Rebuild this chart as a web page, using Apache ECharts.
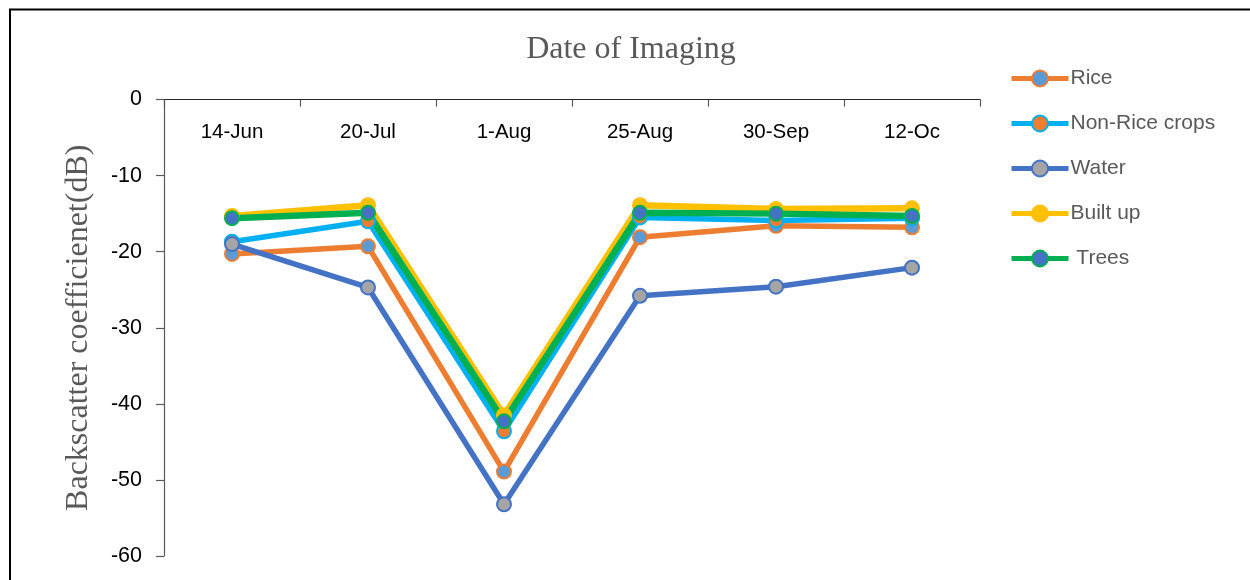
<!DOCTYPE html>
<html>
<head>
<meta charset="utf-8">
<script src="https://cdn.jsdelivr.net/npm/echarts@6/dist/echarts.min.js"></script>
<style>
  html, body { margin: 0; padding: 0; background: #ffffff; }
  #chart { width: 1250px; height: 580px; }
</style>
</head>
<body>
<div id="chart"></div>
<script>
// Imaging dates and backscatter values (dB) for each land cover class
const categories = ['14-Jun', '20-Jul', '1-Aug', '25-Aug', '30-Sep', '12-Oc'];
const rice      = [-20.3, -19.3, -48.9, -18.1, -16.6, -16.8];
const nonRice   = [-18.7, -16.0, -43.6, -15.5, -15.9, -15.6];
const water     = [-19.0, -24.7, -53.2, -25.8, -24.6, -22.1];
const builtUp   = [-15.3, -13.9, -41.5, -13.9, -14.4, -14.3];
const trees     = [-15.6, -14.9, -42.3, -14.9, -15.0, -15.3];
const yTicks    = { min: -60, max: 0, interval: 10 };

const seriesDefs = [
  { name: 'Rice',           data: rice,    line: '#ED7D31', fill: '#5B9BD5', width: 5.5 },
  { name: 'Non-Rice crops', data: nonRice, line: '#00B0F0', fill: '#ED7D31', width: 5.5 },
  { name: 'Water',          data: water,   line: '#4472C4', fill: '#A5A5A5', width: 5.5 },
  { name: 'Built up',       data: builtUp, line: '#FFC000', fill: '#FFC000', width: 6.5 },
  { name: ' Trees',         data: trees,   line: '#00B050', fill: '#4472C4', width: 6.5 }
];

const chart = echarts.init(document.getElementById('chart'), null, { renderer: 'canvas' });

chart.setOption({
  backgroundColor: '#ffffff',
  animation: false,
  graphic: [
    {
      type: 'rect',
      silent: true,
      shape: { x: 10, y: 9.5, width: 1400, height: 700 },
      style: { fill: 'none', stroke: '#000000', lineWidth: 2 }
    },
    {
      type: 'text',
      x: 631, y: 50,
      style: {
        text: 'Date of Imaging',
        font: '32px "Liberation Serif", "Times New Roman", serif',
        fill: '#595959',
        align: 'center',
        verticalAlign: 'middle'
      }
    }
  ],
  legend: {
    orient: 'vertical',
    left: 1009,
    top: 68,
    padding: 0,
    itemGap: 24,
    itemWidth: 57,
    itemHeight: 20,
    lineStyle: { width: 5 },
    textStyle: {
      fontFamily: '"Liberation Sans", Arial, sans-serif',
      fontSize: 21,
      color: '#595959',
      padding: [0, 0, 0, -3]
    },
    data: seriesDefs.map(s => s.name)
  },
  grid: { left: 164, right: 270, top: 99.5, bottom: 24, containLabel: false },
  xAxis: {
    type: 'category',
    position: 'top',
    data: categories,
    boundaryGap: true,
    axisLine: { show: true, lineStyle: { color: '#262626', width: 1.2 } },
    axisTick: { show: true, inside: true, length: 7, lineStyle: { color: '#595959', width: 1.2 } },
    axisLabel: {
      inside: true,
      margin: 22,
      color: '#000000',
      fontFamily: '"Liberation Sans", Arial, sans-serif',
      fontSize: 20.5
    },
    splitLine: { show: false }
  },
  yAxis: {
    type: 'value',
    min: yTicks.min,
    max: yTicks.max,
    interval: yTicks.interval,
    name: 'Backscatter coefficienet(dB)',
    nameLocation: 'middle',
    nameGap: 69,
    nameTextStyle: {
      fontFamily: '"Liberation Serif", "Times New Roman", serif',
      fontSize: 32,
      color: '#595959'
    },
    axisLine: { show: true, lineStyle: { color: '#595959', width: 1.2 } },
    axisTick: { show: true, length: 8, lineStyle: { color: '#595959', width: 1.2 } },
    axisLabel: {
      margin: 22,
      color: '#000000',
      fontFamily: '"Liberation Sans", Arial, sans-serif',
      fontSize: 21.5
    },
    splitLine: { show: false }
  },
  series: seriesDefs.map(s => ({
    name: s.name,
    type: 'line',
    data: s.data,
    symbol: 'circle',
    symbolSize: 14,
    showSymbol: true,
    lineStyle: { color: s.line, width: s.width },
    itemStyle: { color: s.fill, borderColor: s.line, borderWidth: 2 },
    emphasis: { disabled: true }
  }))
});
</script>
</body>
</html>
